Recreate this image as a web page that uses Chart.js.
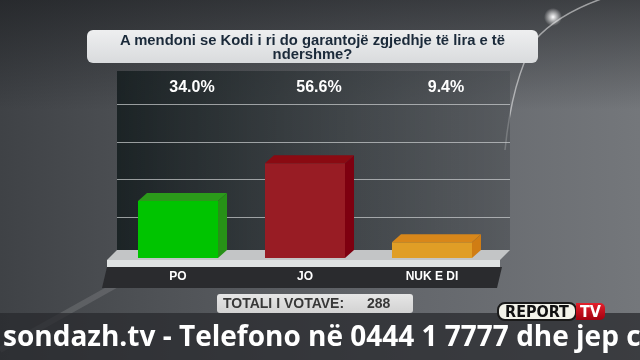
<!DOCTYPE html>
<html>
<head>
<meta charset="utf-8">
<script src="https://cdn.jsdelivr.net/npm/chart.js@4/dist/chart.umd.min.js"></script>
<style>
  body {
    margin: 0; width: 640px; height: 360px; overflow: hidden; position: relative;
    font-family: "Liberation Sans", Arial, sans-serif;
    background:
      linear-gradient(to bottom, rgba(20,22,25,0.55) 0px, rgba(20,22,25,0) 110px),
      linear-gradient(to right, #3f4246 0%, #4f5256 25%, #62656a 60%, #74777b 100%);
  }
  #grafico { position: absolute; left: 0; top: 0; }
  #titulo {
    position: absolute; left: 87px; top: 30px; width: 451px; height: 33px; box-sizing: border-box;
    padding-top: 4px; border-radius: 6px; background: linear-gradient(#eeeff0, #d9dbdd);
    color: #1b2a3a; font-weight: bold; font-size: 14.8px; line-height: 13.5px; text-align: center;
  }
  #total {
    position: absolute; left: 217px; top: 294px; width: 196px; height: 19px; border-radius: 3px;
    background: linear-gradient(#e6e6e6, #d2d2d2); color: #383838; font-weight: bold; font-size: 14px;
    line-height: 19px; white-space: nowrap;
  }
  #total .lbl { position: absolute; left: 6px; }
  #total .num { position: absolute; left: 150px; }
  #banda { position: absolute; left: 0; top: 313px; width: 640px; height: 47px; background: rgba(40,42,46,0.75); }
  #ticker {
    position: absolute; left: 3px; top: 321px; white-space: nowrap; color: #fff;
    font-family: "Open Sans", sans-serif; font-weight: bold; font-size: 28px; line-height: 28px;
  }
  #logo { position: absolute; left: 497px; top: 302px; height: 19px; }
  #logo .rep {
    position: absolute; left: 0; top: 0; width: 80px; height: 19px; box-sizing: border-box;
    border: 2px solid #1a1a1a; border-radius: 8px; background: #f3f3ea; color: #111;
    font-family: "DejaVu Sans Condensed", sans-serif; font-weight: bold; font-size: 16px; line-height: 15px; text-align: center;
  }
  #logo .tv {
    position: absolute; left: 79px; top: 1px; width: 29px; height: 17px; border-radius: 0 5px 5px 0;
    background: linear-gradient(#e3202c, #a3000f); color: #fff;
    font-family: "DejaVu Sans Condensed", sans-serif; font-weight: bold; font-size: 16px; line-height: 17px; text-align: center;
  }
</style>
</head>
<body>
<canvas id="grafico" width="640" height="360"></canvas>
<div id="titulo">A mendoni se Kodi i ri do garantojë zgjedhje të lira e të<br>ndershme?</div>
<div id="total"><span class="lbl">TOTALI I VOTAVE:</span><span class="num" id="totalNum"></span></div>
<div id="banda"></div>
<div id="ticker">sondazh.tv - Telefono në 0444 1 7777 dhe jep c</div>
<div id="logo"><span class="rep">REPORT</span><span class="tv">TV</span></div>
<script>
//DATOS//
const categorias = ["PO", "JO", "NUK E DI"];
const valores = [34.0, 56.6, 9.4];
const totalVotos = 288;

const coloresFrente = ["#00c400", "#981c24", "#e09e26"];
const coloresLado = ["#279117", "#7e0010", "#d07d14"];
const coloresTapa = ["#2b9a1a", "#8a0a12", "#d8871a"];

document.getElementById("totalNum").textContent = totalVotos;

const grafico = document.getElementById("grafico");
const dx = 9, dy = 8; // profundidad 3D

// fondo: reflejo de luz arriba a la derecha
const fondoLuz = {
  id: "fondoLuz",
  beforeDraw(chart) {
    const ctx = chart.ctx;
    ctx.save();
    ctx.strokeStyle = "rgba(255,255,255,0.5)";
    ctx.lineWidth = 1.5;
    ctx.beginPath();
    ctx.moveTo(610, -4);
    ctx.quadraticCurveTo(560, 12, 535, 40);
    ctx.quadraticCurveTo(512, 80, 505, 150);
    ctx.stroke();
    const g = ctx.createRadialGradient(553, 17, 0, 553, 17, 9);
    g.addColorStop(0, "rgba(255,255,255,1)");
    g.addColorStop(1, "rgba(255,255,255,0)");
    ctx.fillStyle = g;
    ctx.fillRect(540, 4, 26, 26);
    // reflejo tenue abajo a la izquierda
    ctx.strokeStyle = "rgba(255,255,255,0.12)";
    ctx.lineWidth = 6;
    ctx.beginPath();
    ctx.moveTo(0, 350);
    ctx.lineTo(125, 280);
    ctx.stroke();
    ctx.restore();
  }
};

const efecto3D = {
  id: "efecto3D",
  beforeDatasetsDraw(chart) {
    const { ctx, chartArea: a, scales: { y } } = chart;
    ctx.save();
    // panel del fondo
    const g = ctx.createLinearGradient(a.left, 0, a.right + 15, 0);
    g.addColorStop(0, "rgba(24,32,34,0.93)");
    g.addColorStop(1, "rgba(72,76,80,0.55)");
    ctx.fillStyle = g;
    ctx.fillRect(a.left + 2.5, a.top, a.right + 12 - a.left, a.bottom - dy - a.top);

    // lineas de la grilla (pared del fondo)
    ctx.strokeStyle = "rgba(205,208,210,0.7)";
    ctx.lineWidth = 1;
    y.ticks.forEach((t) => {
      if (t.value <= 0 || t.value >= y.max) return;
      const py = Math.round(y.getPixelForValue(t.value) - 4) + 0.5;
      ctx.beginPath();
      ctx.moveTo(a.left + 2.5, py);
      ctx.lineTo(a.right + 14.5, py);
      ctx.stroke();
    });

    // piso
    const b = a.bottom;
    ctx.fillStyle = "#c3c5c6";
    ctx.beginPath();
    ctx.moveTo(a.left + 2.5, b - dy);
    ctx.lineTo(a.right + 14.5, b - dy);
    ctx.lineTo(a.right + 4.5, b + 2);
    ctx.lineTo(a.left - 7.5, b + 2);
    ctx.closePath();
    ctx.fill();
    ctx.fillStyle = "#dfe2e2";
    ctx.fillRect(a.left - 7.5, b + 2, a.right - a.left + 12, 7);
    ctx.fillStyle = "#2a2b2e";
    ctx.beginPath();
    ctx.moveTo(a.left - 7.5, b + 9);
    ctx.lineTo(a.right + 6.5, b + 9);
    ctx.lineTo(a.right + 1.5, b + 30);
    ctx.lineTo(a.left - 12.5, b + 30);
    ctx.closePath();
    ctx.fill();
    ctx.restore();
  },
  afterDatasetsDraw(chart) {
    const { ctx, chartArea: a } = chart;
    const meta = chart.getDatasetMeta(0);
    ctx.save();
    meta.data.forEach((bar, i) => {
      const l = bar.x - bar.width / 2, r = bar.x + bar.width / 2;
      // tapa
      ctx.fillStyle = coloresTapa[i];
      ctx.beginPath();
      ctx.moveTo(l, bar.y);
      ctx.lineTo(l + dx, bar.y - dy);
      ctx.lineTo(r + dx, bar.y - dy);
      ctx.lineTo(r, bar.y);
      ctx.closePath();
      ctx.fill();
      // lado
      ctx.fillStyle = coloresLado[i];
      ctx.beginPath();
      ctx.moveTo(r, bar.y);
      ctx.lineTo(r + dx, bar.y - dy);
      ctx.lineTo(r + dx, bar.base - dy);
      ctx.lineTo(r, bar.base);
      ctx.closePath();
      ctx.fill();

      // porcentajes arriba
      ctx.fillStyle = "#ffffff";
      ctx.textAlign = "center";
      ctx.textBaseline = "middle";
      ctx.font = "bold 16px 'Liberation Sans', Arial, sans-serif";
      ctx.fillText(valores[i].toFixed(1) + "%", bar.x + 14, a.top + 17);

      // categorias abajo
      ctx.font = "bold 12px 'Liberation Sans', Arial, sans-serif";
      ctx.fillText(categorias[i], bar.x, a.bottom + 19);
    });
    ctx.restore();
  }
};

new Chart(grafico, {
  type: "bar",
  data: {
    labels: categorias,
    datasets: [{
      data: valores,
      backgroundColor: coloresFrente,
      borderWidth: 0,
      barPercentage: 0.63,
      categoryPercentage: 1,
    }],
  },
  options: {
    responsive: false,
    animation: false,
    devicePixelRatio: 1,
    layout: { padding: { left: 114.5, right: 144.5, top: 71, bottom: 102 } },
    plugins: { legend: { display: false }, tooltip: { enabled: false } },
    scales: {
      x: { display: false },
      y: { display: false, min: 0, max: 111.75, ticks: { count: 6 } },
    },
  },
  plugins: [fondoLuz, efecto3D],
});
</script>
</body>
</html>
